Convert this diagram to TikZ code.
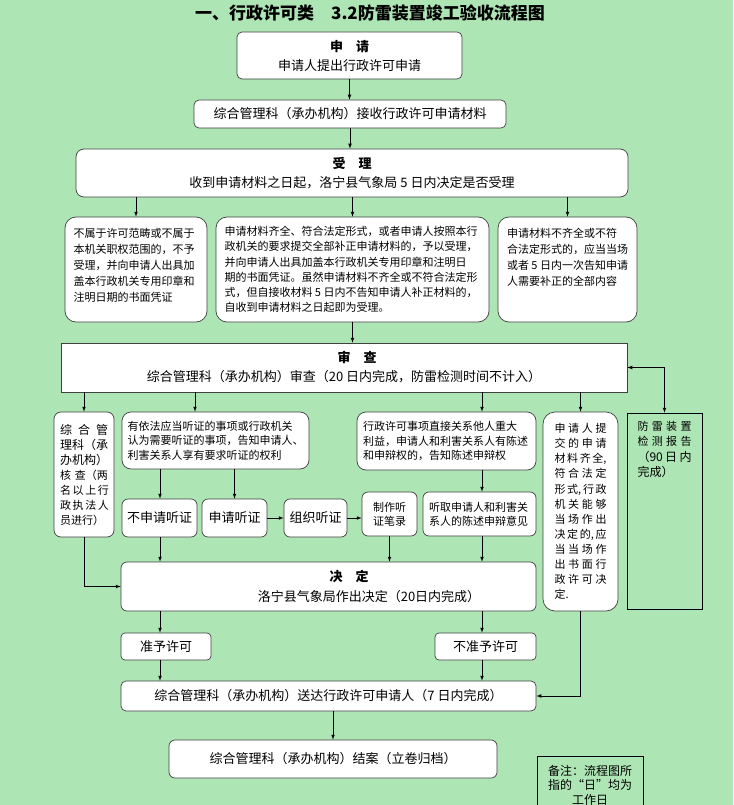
\documentclass[tikz,border=0pt]{standalone}
\usepackage{fontspec}
\setmainfont{Noto Sans CJK SC}
\usepackage{tikz}
\tikzset{>=latex}
\definecolor{bggreen}{RGB}{174, 229, 181}
\newcommand{\spr}[2]{\makebox[#1][s]{#2}}
\newcommand{\topbox}[3]{\parbox[c][#2][t]{#1}{#3}}

\begin{document}
\begin{tikzpicture}[x=1pt, y=-1pt,
    sz/.style 2 args={minimum width=#1pt, minimum height=#2pt},
    box/.style={draw=black!75, fill=white, line width=0.7pt, rounded corners=5pt, inner sep=0pt, align=center, font=\fontsize{13}{19}\selectfont},
    bigbox/.style={box, rounded corners=11pt, font=\fontsize{11}{16}\selectfont},
    smallbox/.style={box, rounded corners=6pt, font=\fontsize{11}{14}\selectfont},
    plain/.style={draw=black, line width=0.7pt, inner sep=0pt, align=center},
    link/.style={->, line width=0.7pt}]
    \useasboundingbox(0, 0)rectangle(733, 805);
    \fill[bggreen](0, 0)rectangle(733, 805);
    \coordinate(colL) at(160, 0);
    \coordinate(colT) at(195, 0);
    \coordinate(colR) at(482, 0);

    \node[font=\fontsize{17}{20}\selectfont\bfseries](title) at(370, 13){一、行政许可类　3.2防雷装置竣工验收流程图};
    \node[box, sz={225}{47}](shenqing) at(349.5, 55.5){\textbf{申　请}\\申请人提出行政许可申请};
    \node[box, sz={312}{28}](jieshou) at(350, 114){综合管理科（承办机构）接收行政许可申请材料};
    \node[box, rounded corners=8pt, sz={552}{48}](shouli) at(352, 173){\textbf{受　理}\\收到申请材料之日起，洛宁县气象局 5 日内决定是否受理};

    \node[bigbox, sz={142}{105}](buyu) at(136, 269.5){\topbox{125pt}{82pt}{不属于许可范畴或不属于\\本机关职权范围的，不予\\受理，并向申请人出具加\\盖本行政机关专用印章和\\注明日期的书面凭证}};
    \node[bigbox, sz={273}{105}, font=\fontsize{11}{15.2}\selectfont](shouliok) at(352.5, 269.5){\parbox{256pt}{申请材料齐全、符合法定形式，或者申请人按照本行\\政机关的要求提交全部补正申请材料的，予以受理，\\并向申请人出具加盖本行政机关专用印章和注明日\\期的书面凭证。虽然申请材料不齐全或不符合法定形\\式，但自接收材料 5 日内不告知申请人补正材料的，\\自收到申请材料之日起即为受理。}};
    \node[bigbox, sz={139}{105}](buqi) at(567.5, 269.5){\topbox{121pt}{82pt}{申请材料不齐全或不符\\合法定形式的，应当当场\\或者 5 日内一次告知申请\\人需要补正的全部内容}};

    \node[box, sharp corners, sz={566}{49}](shencha) at(344, 367.5){\hspace*{26pt}\textbf{审　查}\\综合管理科（承办机构）审查（20 日内完成，防雷检测时间不计入）};
    \node[plain, sz={75}{196}, font=\fontsize{11}{15.5}\selectfont](fangle) at(664.5, 511){\topbox{54pt}{180pt}{\spr{54pt}{防 雷 装 置}\\\spr{54pt}{检 测 报 告}\\{\fontsize{12}{15.5}\selectfont\spr{54pt}{（90 日 内}\\完成）}}};

    \node[box, rounded corners=7pt, sz={60}{125}, font=\fontsize{12}{15}\selectfont](hecha) at(84, 474.5){\parbox{48pt}{\spr{48pt}{综 合 管}\\理科（承\\办机构）\\{\fontsize{11}{15}\selectfont\spr{48pt}{核 查（两}\\\spr{48pt}{名 以 上 行}\\\spr{48pt}{政 执 法 人}\\员进行）}}};
    \node[box, rounded corners=9pt, sz={187}{57}, font=\fontsize{11}{14.5}\selectfont](tingzheng) at(215.5, 440.5){\parbox{176pt}{有依法应当听证的事项或行政机关\\认为需要听证的事项，告知申请人、\\利害关系人享有要求听证的权利}};
    \node[box, rounded corners=9pt, sz={179}{58}, font=\fontsize{11}{14.5}\selectfont](chenshu) at(446.5, 441){\parbox{167pt}{行政许可事项直接关系他人重大\\利益，申请人和利害关系人有陈述\\和申辩权的，告知陈述申辩权}};
    \node[box, rounded corners=12pt, sz={75}{199}, font=\fontsize{11}{15.1}\selectfont](dangchang) at(580.5, 511.5){\parbox{52pt}{\spr{52pt}{申 请 人 提}\\\spr{52pt}{交 的 申 请}\\\spr{52pt}{材 料 齐 全,}\\\spr{52pt}{符 合 法 定}\\\spr{52pt}{形 式, 行 政}\\\spr{52pt}{机 关 能 够}\\\spr{52pt}{当 场 作 出}\\\spr{52pt}{决 定 的, 应}\\\spr{52pt}{当 当 场 作}\\\spr{52pt}{出 书 面 行}\\\spr{52pt}{政 许 可 决}\\定.}};

    \node[box, rounded corners=6pt, sz={75}{38}](bushenqing) at(159.5, 518){不申请听证};
    \node[box, rounded corners=6pt, sz={65}{38}](shenqingtz) at(234.5, 518){申请听证};
    \node[box, rounded corners=6pt, sz={63}{38}](zuzhi) at(315.5, 518){组织听证};
    \node[smallbox, sz={55}{44}](bilu) at(389.5, 514){制作听\\证笔录};
    \node[smallbox, sz={113}{44}](tingqu) at(479.5, 514){\parbox{101pt}{听取申请人和利害关\\系人的陈述申辩意见}};

    \node[box, rounded corners=6pt, sz={415}{49}, font=\fontsize{13}{20}\selectfont](jueding) at(328.5, 586.5){\hspace*{41pt}\textbf{决　定}\\\hspace*{81pt}洛宁县气象局作出决定（20日内完成）};
    \node[box, rounded corners=4pt, sz={90}{27}](zhunyu) at(166, 646.5){准予许可};
    \node[box, rounded corners=4pt, sz={101}{27}](buzhunyu) at(485.5, 646.5){不准予许可};
    \node[box, sz={415}{30}](songda) at(328.5, 696){综合管理科（承办机构）送达行政许可申请人（7 日内完成）};
    \node[box, rounded corners=6pt, sz={328}{38}](jiean) at(333, 759){综合管理科（承办机构）结案（立卷归档）};
    \node[plain, sz={106}{58}, font=\fontsize{12}{14.5}\selectfont](beizhu) at(590, 785){备注：流程图所\\指的“日”均为\\工作日};

    \draw[link](shenqing.south)--(shenqing.south |- jieshou.north);
    \draw[link](jieshou.south)--(jieshou.south |- shouli.north);
    \draw[link](buyu.north |- shouli.south)--(buyu.north);
    \draw[link](shouliok.north |- shouli.south)--(shouliok.north);
    \draw[link](buqi.north |- shouli.south)--(buqi.north);
    \draw[link](shouliok.south)--(shouliok.south |- shencha.north);
    \draw[link](hecha.north |- shencha.south)--(hecha.north);
    \draw[link](colT |- shencha.south)--(colT |- tingzheng.north);
    \draw[link](colR |- shencha.south)--(colR |- chenshu.north);
    \draw[link](dangchang.north |- shencha.south)--(dangchang.north);
    \draw[link, <->](shencha.east)-|(fangle.north);
    \draw[link](colL |- tingzheng.south)--(colL |- bushenqing.north);
    \draw[link](shenqingtz.north |- tingzheng.south)--(shenqingtz.north);
    \draw[link](shenqingtz.east)--(zuzhi.west);
    \draw[link](zuzhi.east)--(zuzhi.east -| bilu.west);
    \draw[link](colR |- chenshu.south)--(colR |- tingqu.north);
    \draw[link](colL |- bushenqing.south)--(colL |- jueding.north);
    \draw[link](bilu.south)--(bilu.south |- jueding.north);
    \draw[link](colR |- tingqu.south)--(colR |- jueding.north);
    \draw[link](hecha.south)|-(jueding.west);
    \draw[link](colL |- jueding.south)--(colL |- zhunyu.north);
    \draw[link](colR |- jueding.south)--(colR |- buzhunyu.north);
    \draw[link](colL |- zhunyu.south)--(colL |- songda.north);
    \draw[link](colR |- buzhunyu.south)--(colR |- songda.north);
    \draw[link](dangchang.south)|-(songda.east);
    \draw[link](jiean.north |- songda.south)--(jiean.north);
\end{tikzpicture}
\end{document}
